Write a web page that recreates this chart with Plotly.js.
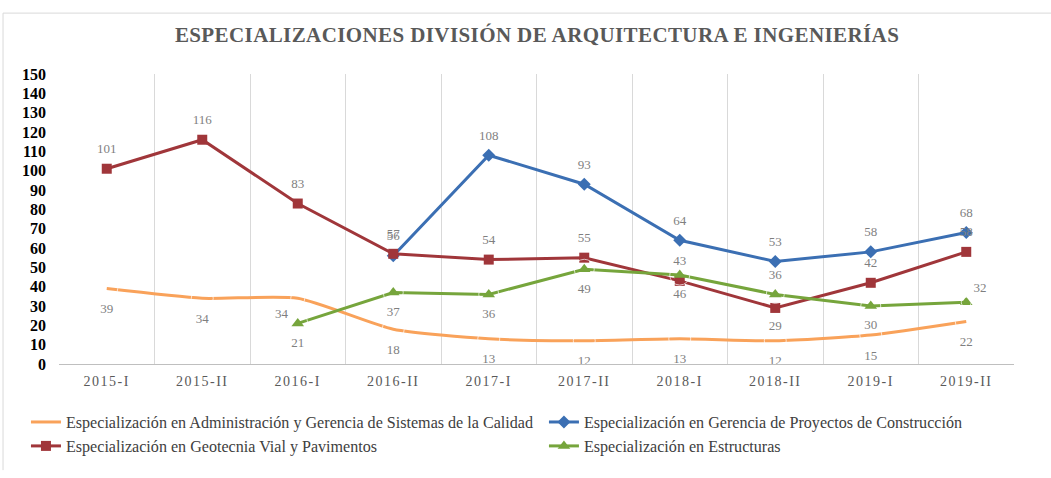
<!DOCTYPE html>
<html>
<head>
<meta charset="utf-8">
<script src="https://cdn.plot.ly/plotly-3.0.1.min.js"></script>
<style>
html,body{margin:0;padding:0;background:#fff;}
#chart{width:1051px;height:478px;}
.xtick text{letter-spacing:1.5px;}
.gtitle{letter-spacing:0.4px;}
</style>
</head>
<body>
<div id="chart"></div>
<script>
const categories = ["2015-I","2015-II","2016-I","2016-II","2017-I","2017-II","2018-I","2018-II","2019-I","2019-II"];
const yTicks = [0,10,20,30,40,50,60,70,80,90,100,110,120,130,140,150];

const adminCalidad = [39,34,34,18,13,12,13,12,15,22];
const gerenciaProyectos = [null,null,null,56,108,93,64,53,58,68];
const geotecnia = [101,116,83,57,54,55,43,29,42,58];
const estructuras = [null,null,21,37,36,49,46,36,30,32];

const names = [
  "Especialización en Administración y Gerencia de Sistemas de la Calidad",
  "Especialización en Gerencia de Proyectos de Construcción",
  "Especialización en Geotecnia Vial y Pavimentos",
  "Especialización en Estructuras"
];

const labelFont = {family:"Liberation Serif, serif", size:13, color:"#7f7f7f"};
const txt = a => a.map(v => v === null ? "" : String(v));

const T = "top center", B = "bottom center", TR = "top right", BL = "bottom left";

function labelTrace(y, pos, size) {
  return {
    x: categories, y: y, type:"scatter", mode:"markers+text",
    marker:{size:size, color:"rgba(0,0,0,0)"},
    text: txt(y), textposition: pos, textfont: labelFont,
    cliponaxis:false, showlegend:false, hoverinfo:"skip"
  };
}

const traces = [
  {
    x: categories, y: adminCalidad, name: names[0], type:"scatter", mode:"lines",
    line:{color:"#F9A25A", width:3, shape:"spline", smoothing:0.6},
    legend:"legend"
  },
  {
    x: categories, y: gerenciaProyectos, name: names[1], type:"scatter", mode:"lines+markers",
    line:{color:"#3B6FB3", width:3}, marker:{symbol:"diamond", size:10, color:"#3B6FB3"},
    legend:"legend2"
  },
  {
    x: categories, y: geotecnia, name: names[2], type:"scatter", mode:"lines+markers",
    line:{color:"#A0363A", width:3}, marker:{symbol:"square", size:10, color:"#A0363A"},
    legend:"legend"
  },
  {
    x: categories, y: estructuras, name: names[3], type:"scatter", mode:"lines+markers",
    line:{color:"#76A53C", width:3}, marker:{symbol:"triangle-up", size:11, color:"#76A53C"},
    legend:"legend2"
  },
  labelTrace(adminCalidad, [B,B,BL,B,B,B,B,B,B,B], [22,22,14,22,22,22,22,22,22,22]),
  labelTrace(gerenciaProyectos, T, 18),
  labelTrace(geotecnia, [T,T,T,T,T,T,T,B,T,T], 18),
  labelTrace(estructuras, [B,B,B,B,B,B,B,T,B,TR], [20,20,20,20,20,20,20,18,20,10])
];

const legendFont = {family:"Liberation Serif, serif", size:16.1, color:"#404040"};

const layout = {
  width:1051, height:478,
  margin:{l:59, r:37, t:74, b:114},
  paper_bgcolor:"#ffffff", plot_bgcolor:"#ffffff",
  showlegend:true,
  title:{
    text:"ESPECIALIZACIONES DIVISIÓN DE ARQUITECTURA E INGENIERÍAS",
    font:{family:"Liberation Serif, serif", size:21, color:"#595959", weight:700},
    x:0.511, xanchor:"center", y:0.927, yanchor:"middle"
  },
  xaxis:{
    type:"category", categoryorder:"array", categoryarray:categories,
    range:[-0.5, 9.5],
    tickson:"boundaries", showgrid:true, gridcolor:"#d9d9d9", gridwidth:1,
    showline:true, linecolor:"#bfbfbf", linewidth:1, ticks:"", zeroline:false,
    tickfont:{family:"Liberation Serif, serif", size:14, color:"#595959"},
    ticklabelstandoff:4,
    fixedrange:true
  },
  yaxis:{
    range:[0,150], tickvals:yTicks, ticktext:yTicks.map(String),
    showgrid:false, zeroline:false, showline:false, ticks:"",
    tickfont:{family:"Liberation Serif, serif", size:16, color:"#000000", weight:700},
    ticklabelstandoff:12,
    fixedrange:true
  },
  legend:{
    orientation:"v", xref:"paper", yref:"container",
    x:-0.0346, xanchor:"left", y:0.1527, yanchor:"top",
    font:legendFont, traceorder:"normal", itemwidth:30, tracegroupgap:0,
    bgcolor:"rgba(0,0,0,0)"
  },
  legend2:{
    orientation:"v", xref:"paper", yref:"container",
    x:0.5078, xanchor:"left", y:0.1527, yanchor:"top",
    font:legendFont, traceorder:"normal", itemwidth:30, tracegroupgap:0,
    bgcolor:"rgba(0,0,0,0)"
  },
  shapes:[
    {type:"line", xref:"paper", yref:"paper", x0:-0.0586, x1:-0.0586, y0:-0.366, y1:1.21, line:{color:"#d9d9d9", width:1}},
    {type:"line", xref:"paper", yref:"paper", x0:-0.0586, x1:1.05, y0:1.21, y1:1.21, line:{color:"#d9d9d9", width:1}}
  ]
};

Plotly.newPlot("chart", traces, layout, {displayModeBar:false, staticPlot:true});
</script>
</body>
</html>
